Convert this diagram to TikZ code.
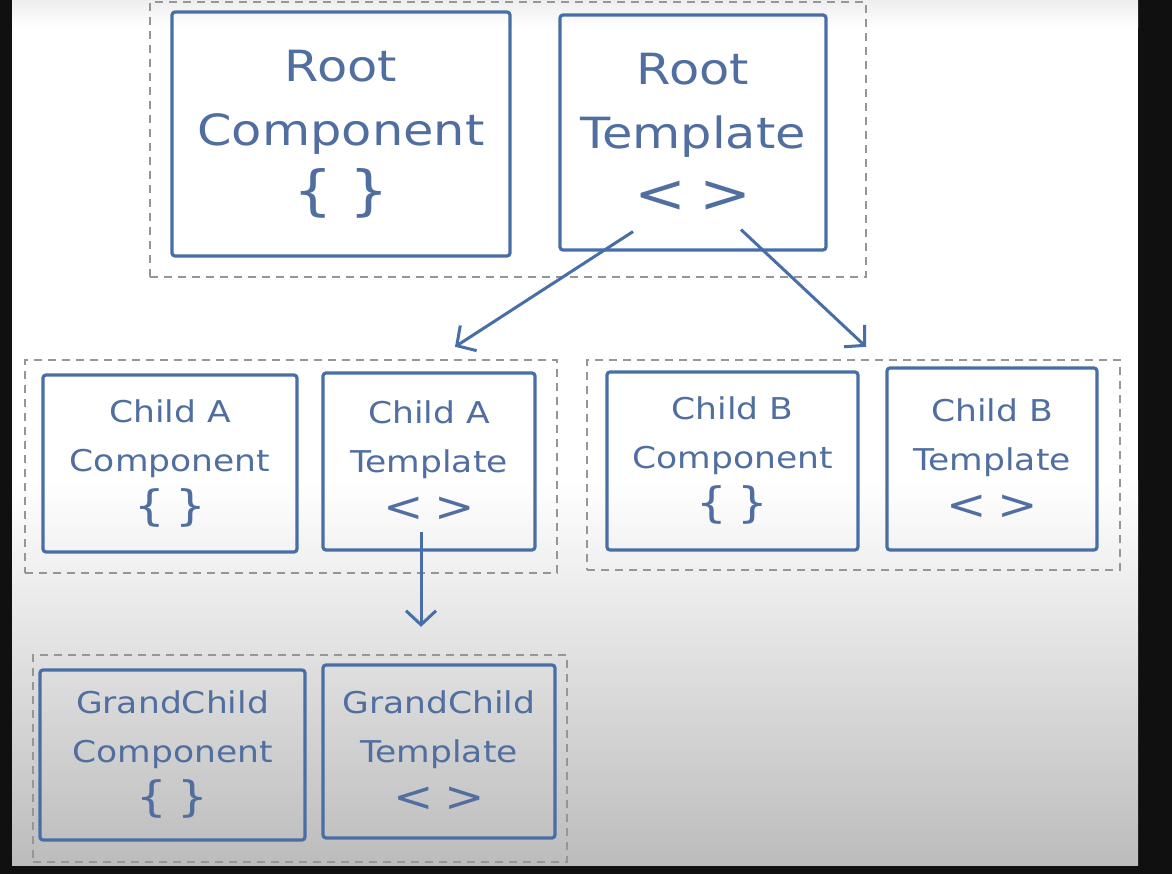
\documentclass[tikz,border=0pt]{standalone}
\usepackage{fontspec}
\newfontfamily\hand[FakeStretch=1.15]{DejaVu Sans}
\usetikzlibrary{arrows.meta,calc}
\definecolor{inkblue}{RGB}{72,110,168}
\definecolor{textblue}{RGB}{80,110,160}
\definecolor{dashgrey}{RGB}{150,150,150}
\definecolor{bgbottom}{RGB}{188,188,188}
\definecolor{bgtop}{RGB}{238,238,238}
\definecolor{framecol}{RGB}{16,16,16}
\newcommand{\bigsym}[1]{{\fontsize{54}{60}\selectfont #1}}
\newcommand{\smallsym}[1]{{\fontsize{42}{46}\selectfont #1}}
\begin{document}
\begin{tikzpicture}[x=1pt,y=-1pt,
  box/.style={draw=inkblue, line width=3.2pt, rounded corners=3pt, text=textblue, align=center, inner sep=0pt},
  big/.style={box, font=\hand\fontsize{43}{64}\selectfont},
  small/.style={box, font=\hand\fontsize{30}{49}\selectfont},
  grp/.style={draw=dashgrey, line width=2.4pt, dash pattern=on 8pt off 6pt, inner sep=0pt},
  link/.style={draw=inkblue, line width=3pt, -{Straight Barb[length=14pt,width=30pt]}}]
\useasboundingbox (0,0) rectangle (1172,874);
% screen background
\fill[framecol] (0,0) rectangle (1172,874);
\fill[white] (12,0) rectangle (1138,480);
\shade[top color=bgtop, bottom color=white] (12,0) rectangle (1138,28);
\shade[top color=white, bottom color=bgbottom] (12,480) rectangle (1138,865);

% groups
\node[grp, minimum width=716pt, minimum height=275pt] (tg) at (508,139.5) {};
\node[grp, minimum width=532pt, minimum height=213pt] (ga) at (291,466.5) {};
\node[grp, minimum width=533pt, minimum height=210pt] (gb) at (853.5,465) {};
\node[grp, minimum width=534pt, minimum height=207pt] (gg) at (300,758.5) {};

% root
\node[big, minimum width=338pt, minimum height=244pt] (rc) at (341,134) {Root\\Component\\\bigsym{\{\hspace{0.3em}\}}};
\node[big, minimum width=266pt, minimum height=235pt] (rt) at (693,132.5) {Root\\Template\\\bigsym{<\hspace{0.25em}>}};

% child A
\node[small, minimum width=254pt, minimum height=177pt] (cac) at (170,463.5) {Child A\\Component\\\smallsym{\{\hspace{0.25em}\}}};
\node[small, minimum width=212pt, minimum height=177pt] (cat) at (429,461.5) {Child A\\Template\\\smallsym{<\hspace{0.25em}>}};

% child B
\node[small, minimum width=251pt, minimum height=178pt] (cbc) at (732.5,461) {Child B\\Component\\\smallsym{\{\hspace{0.25em}\}}};
\node[small, minimum width=210pt, minimum height=182pt] (cbt) at (992,459) {Child B\\Template\\\smallsym{<\hspace{0.25em}>}};

% grandchild
\node[small, minimum width=265pt, minimum height=170pt] (gcc) at (172.5,755) {GrandChild\\Component\\\smallsym{\{\hspace{0.25em}\}}};
\node[small, minimum width=232pt, minimum height=173pt] (gct) at (439,751.5) {GrandChild\\Template\\\smallsym{<\hspace{0.25em}>}};

% connectors
\draw[link] ($(rt.south)+(-60,-20)$) -- ($(ga.north)+(164,-12)$);
\draw[link] ($(rt.south)+(48,-22)$) -- ($(gb.north)+(12.5,-12)$);
\draw[link] ($(cat.south)+(-8,-20)$) -- ($(gg.north)+(121,-27)$);
\end{tikzpicture}
\end{document}
